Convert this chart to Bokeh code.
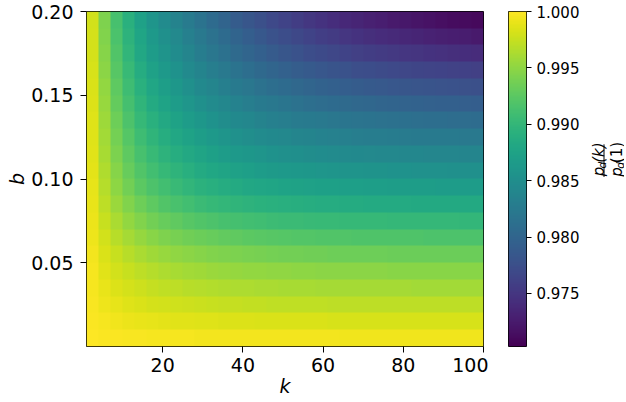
import numpy as np
from bokeh.plotting import figure
from bokeh.layouts import row
from bokeh.models import LinearColorMapper, FixedTicker, PrintfTickFormatter, Range1d
from bokeh.core.properties import value
from bokeh.palettes import Viridis256
from bokeh.embed import file_html
from bokeh.resources import INLINE

# ---- data: p_d(k)/p_d(1) at cell centres ----
k_centers = [2.5, 5.5, 8.5, 11.5, 14.5, 17.5, 20.5, 23.5, 26.5, 29.5, 32.5,
             35.5, 38.5, 41.5, 44.5, 47.5, 50.5, 53.5, 56.5, 59.5, 62.5, 65.5,
             68.5, 71.5, 74.5, 77.5, 80.5, 83.5, 86.5, 89.5, 92.5, 95.5, 98.5]
b_centers = [0.005, 0.015, 0.025, 0.035, 0.045, 0.055, 0.065, 0.075, 0.085, 0.095,
             0.105, 0.115, 0.125, 0.135, 0.145, 0.155, 0.165, 0.175, 0.185, 0.195]

ratio_b005 = [0.99995, 0.99985, 0.99977, 0.99971, 0.99966, 0.99962, 0.99959, 0.99956, 0.99954, 0.99952, 0.9995,
              0.99948, 0.99947, 0.99946, 0.99945, 0.99944, 0.99944, 0.99943, 0.99943, 0.99942, 0.99942, 0.99941,
              0.99941, 0.99941, 0.99941, 0.99941, 0.99941, 0.9994, 0.9994, 0.9994, 0.9994, 0.9994, 0.9994]
ratio_b015 = [0.99985, 0.99955, 0.99932, 0.99914, 0.99898, 0.99887, 0.99877, 0.99869, 0.99861, 0.99855, 0.9985,
              0.99845, 0.99842, 0.99838, 0.99835, 0.99833, 0.99831, 0.99829, 0.99828, 0.99826, 0.99825, 0.99824,
              0.99824, 0.99823, 0.99823, 0.99822, 0.99822, 0.99821, 0.99821, 0.99821, 0.99821, 0.9982, 0.9982]
ratio_b025 = [0.99975, 0.99925, 0.99886, 0.99856, 0.9983, 0.99811, 0.99794, 0.99781, 0.99769, 0.99758, 0.99749,
              0.99742, 0.99736, 0.9973, 0.99725, 0.99721, 0.99718, 0.99715, 0.99713, 0.9971, 0.99709, 0.99707,
              0.99706, 0.99705, 0.99704, 0.99704, 0.99703, 0.99702, 0.99702, 0.99701, 0.99701, 0.99701, 0.997]
ratio_b035 = [0.99965, 0.99897, 0.99844, 0.99803, 0.99768, 0.99742, 0.99719, 0.99701, 0.99684, 0.9967, 0.99658,
              0.99647, 0.99639, 0.99631, 0.99625, 0.99619, 0.99615, 0.9961, 0.99607, 0.99604, 0.99602, 0.996,
              0.99599, 0.99597, 0.99596, 0.99595, 0.99594, 0.99593, 0.99592, 0.99592, 0.99591, 0.99591, 0.9959]
ratio_b045 = [0.99955, 0.99867, 0.99799, 0.99746, 0.99701, 0.99666, 0.99637, 0.99613, 0.99592, 0.99573, 0.99557,
              0.99544, 0.99534, 0.99523, 0.99515, 0.99507, 0.99502, 0.99496, 0.99492, 0.99489, 0.99486, 0.99483,
              0.99481, 0.9948, 0.99478, 0.99476, 0.99475, 0.99474, 0.99473, 0.99472, 0.99472, 0.99471, 0.9947]
ratio_b055 = [0.99943, 0.99832, 0.99745, 0.99678, 0.99621, 0.99578, 0.99541, 0.99511, 0.99484, 0.99461, 0.99441,
              0.99424, 0.9941, 0.99397, 0.99387, 0.99377, 0.9937, 0.99363, 0.99358, 0.99353, 0.9935, 0.99347,
              0.99344, 0.99342, 0.9934, 0.99338, 0.99337, 0.99335, 0.99334, 0.99333, 0.99332, 0.99331, 0.9933]
ratio_b065 = [0.99929, 0.99792, 0.99685, 0.99602, 0.99531, 0.99477, 0.99431, 0.99394, 0.99361, 0.99332, 0.99307,
              0.99286, 0.9927, 0.99253, 0.99241, 0.99228, 0.9922, 0.99211, 0.99205, 0.99199, 0.99195, 0.99191,
              0.99187, 0.99185, 0.99182, 0.9918, 0.99178, 0.99177, 0.99175, 0.99173, 0.99172, 0.99172, 0.9917]
ratio_b075 = [0.99915, 0.9975, 0.9962, 0.9952, 0.99435, 0.9937, 0.99315, 0.9927, 0.9923, 0.99195, 0.99165,
              0.9914, 0.9912, 0.991, 0.99085, 0.9907, 0.9906, 0.9905, 0.99042, 0.99035, 0.9903, 0.99025,
              0.99021, 0.99018, 0.99015, 0.99012, 0.9901, 0.99008, 0.99006, 0.99004, 0.99003, 0.99002, 0.99]
ratio_b085 = [0.99901, 0.99707, 0.99555, 0.99438, 0.99339, 0.99263, 0.99199, 0.99146, 0.99099, 0.99058, 0.99023,
              0.98994, 0.9897, 0.98947, 0.98929, 0.98912, 0.989, 0.98888, 0.98879, 0.98871, 0.98865, 0.98859,
              0.98855, 0.98851, 0.98848, 0.98844, 0.98842, 0.98839, 0.98837, 0.98835, 0.98834, 0.98832, 0.9883]
ratio_b095 = [0.99888, 0.99671, 0.995, 0.99369, 0.99257, 0.99171, 0.99099, 0.9904, 0.98987, 0.98941, 0.98901,
              0.98867, 0.9884, 0.98813, 0.98792, 0.98772, 0.98758, 0.98744, 0.98732, 0.98723, 0.98715, 0.98708,
              0.98702, 0.98697, 0.98693, 0.98688, 0.98685, 0.98682, 0.98679, 0.98676, 0.98675, 0.98673, 0.9867]
ratio_b105 = [0.99877, 0.99641, 0.99455, 0.99313, 0.99191, 0.99099, 0.99021, 0.98956, 0.98898, 0.98846, 0.98802,
              0.98764, 0.98732, 0.98701, 0.98677, 0.98652, 0.98635, 0.98618, 0.98604, 0.98592, 0.98582, 0.98573,
              0.98564, 0.98558, 0.98552, 0.98546, 0.98541, 0.98537, 0.98533, 0.98529, 0.98526, 0.98524, 0.9852]
ratio_b115 = [0.99868, 0.99615, 0.99417, 0.99265, 0.99135, 0.99036, 0.98953, 0.98884, 0.98821, 0.98765, 0.98716,
              0.98674, 0.98637, 0.98603, 0.98574, 0.98546, 0.98526, 0.98506, 0.98488, 0.98473, 0.98461, 0.98449,
              0.98438, 0.9843, 0.98422, 0.98415, 0.98408, 0.98403, 0.98397, 0.98392, 0.98388, 0.98384, 0.9838]
ratio_b125 = [0.99859, 0.99588, 0.99377, 0.99215, 0.99077, 0.98972, 0.98883, 0.9881, 0.98742, 0.9868, 0.98627,
              0.9858, 0.98538, 0.985, 0.98467, 0.98434, 0.98411, 0.98387, 0.98365, 0.98348, 0.98333, 0.98318,
              0.98304, 0.98294, 0.98284, 0.98275, 0.98266, 0.98259, 0.98252, 0.98245, 0.9824, 0.98235, 0.9823]
ratio_b135 = [0.9985, 0.99563, 0.9934, 0.99169, 0.99023, 0.98911, 0.98819, 0.98741, 0.98668, 0.98601, 0.98544,
              0.98491, 0.98444, 0.98402, 0.98364, 0.98327, 0.98299, 0.98271, 0.98245, 0.98225, 0.98207, 0.98188,
              0.98171, 0.9816, 0.98148, 0.98136, 0.98125, 0.98116, 0.98107, 0.98099, 0.98093, 0.98086, 0.9808]
ratio_b145 = [0.9984, 0.99537, 0.99301, 0.99122, 0.98968, 0.9885, 0.98752, 0.9867, 0.98593, 0.9852, 0.98458,
              0.984, 0.98347, 0.983, 0.98257, 0.98214, 0.98182, 0.9815, 0.98119, 0.98096, 0.98074, 0.98052,
              0.98031, 0.98017, 0.98003, 0.97988, 0.97975, 0.97964, 0.97953, 0.97943, 0.97935, 0.97927, 0.9792]
ratio_b155 = [0.99831, 0.99513, 0.99265, 0.99078, 0.98916, 0.98793, 0.98691, 0.98605, 0.98523, 0.98444, 0.98377,
              0.98314, 0.98254, 0.98202, 0.98154, 0.98106, 0.98069, 0.98032, 0.97997, 0.97969, 0.97944, 0.97918,
              0.97893, 0.97876, 0.97859, 0.97842, 0.97826, 0.97813, 0.978, 0.97788, 0.97778, 0.97769, 0.9776]
ratio_b165 = [0.99822, 0.99488, 0.99229, 0.99033, 0.98864, 0.98735, 0.98629, 0.98539, 0.98452, 0.98367, 0.98295,
              0.98226, 0.98159, 0.98102, 0.98048, 0.97994, 0.97951, 0.97909, 0.97868, 0.97837, 0.97807, 0.97777,
              0.97747, 0.97727, 0.97707, 0.97688, 0.97668, 0.97653, 0.97637, 0.97623, 0.97612, 0.976, 0.9759]
ratio_b175 = [0.99813, 0.99463, 0.99192, 0.98988, 0.98812, 0.98677, 0.98567, 0.98472, 0.9838, 0.98289, 0.98212,
              0.98136, 0.98062, 0.97999, 0.97938, 0.97877, 0.9783, 0.97782, 0.97735, 0.97699, 0.97664, 0.97629,
              0.97594, 0.97571, 0.97548, 0.97525, 0.97502, 0.97484, 0.97465, 0.97449, 0.97435, 0.97422, 0.9741]
ratio_b185 = [0.99805, 0.99443, 0.99164, 0.98954, 0.98773, 0.98633, 0.98521, 0.98423, 0.98327, 0.9823, 0.98148,
              0.98066, 0.97985, 0.97917, 0.9785, 0.97782, 0.97728, 0.97675, 0.97622, 0.97581, 0.97541, 0.97502,
              0.97462, 0.97435, 0.97409, 0.97382, 0.97356, 0.97335, 0.97314, 0.97295, 0.97279, 0.97263, 0.9725]
ratio_b195 = [0.99797, 0.9942, 0.9913, 0.98912, 0.98724, 0.98579, 0.98463, 0.98361, 0.9826, 0.98158, 0.98071,
              0.97984, 0.97897, 0.97825, 0.97752, 0.9768, 0.97622, 0.97564, 0.97506, 0.97462, 0.97419, 0.97375,
              0.97332, 0.97303, 0.97274, 0.97245, 0.97216, 0.97193, 0.9717, 0.97149, 0.97132, 0.97114, 0.971]

x_ticks = [20, 40, 60, 80, 100]
y_ticks = [0.05, 0.10, 0.15, 0.20]
cbar_ticks = [0.975, 0.980, 0.985, 0.990, 0.995, 1.000]
ratio_low, ratio_high = 0.9703, 1.0
k_min, k_max = 1, 100
b_min, b_max = 0.0, 0.2

# ---- layout constants (pixels) ----
FL, FW, FT, FH, FB = 86, 397, 11, 335, 55
FONT = "DejaVu Sans"

grid = np.array([ratio_b005, ratio_b015, ratio_b025, ratio_b035, ratio_b045,
                 ratio_b055, ratio_b065, ratio_b075, ratio_b085, ratio_b095,
                 ratio_b105, ratio_b115, ratio_b125, ratio_b135, ratio_b145,
                 ratio_b155, ratio_b165, ratio_b175, ratio_b185, ratio_b195])
k_step = k_centers[1] - k_centers[0]
b_step = b_centers[1] - b_centers[0]

mapper = LinearColorMapper(palette=Viridis256, low=ratio_low, high=ratio_high)

p1 = figure(frame_width=FW, frame_height=FH, min_border_left=FL, min_border_right=5,
            min_border_top=FT, min_border_bottom=FB,
            x_range=Range1d(k_min, k_max), y_range=Range1d(b_min, b_max),
            output_backend="svg", toolbar_location=None)
p1.image(image=[grid], x=k_centers[0] - k_step / 2, y=b_centers[0] - b_step / 2,
         dw=len(k_centers) * k_step, dh=len(b_centers) * b_step, color_mapper=mapper)
p1.grid.visible = False
p1.outline_line_color = "black"
p1.outline_line_width = 1
p1.outline_line_alpha = 1

p1.xaxis.ticker = FixedTicker(ticks=x_ticks)
p1.yaxis.ticker = FixedTicker(ticks=y_ticks)
p1.yaxis.formatter = PrintfTickFormatter(format="%.2f")
for ax in (p1.xaxis[0], p1.yaxis[0]):
    ax.axis_line_color = None
    ax.major_tick_line_color = "black"
    ax.major_tick_out = 6
    ax.major_tick_in = 0
    ax.minor_tick_line_color = None
    ax.major_label_text_font = FONT
    ax.major_label_text_font_size = "19px"
    ax.major_label_text_color = "black"
    ax.axis_label_text_font = FONT
    ax.axis_label_text_font_style = "italic"
    ax.axis_label_text_font_size = "19px"
    ax.axis_label_text_color = "black"
p1.xaxis.major_label_standoff = 5
p1.yaxis.major_label_standoff = 7
p1.xaxis.axis_label = "k"
p1.yaxis.axis_label = "b"
p1.xaxis.axis_label_standoff = 0
p1.yaxis.axis_label_standoff = 0

# ---- colour bar as a second figure ----
CB_GAP, CB_W, CB_R = 20, 18, 56
p2 = figure(frame_width=CB_W, frame_height=FH, min_border_left=CB_GAP, min_border_right=CB_R,
            min_border_top=FT, min_border_bottom=FB,
            x_range=Range1d(0, 1), y_range=Range1d(ratio_low, ratio_high),
            x_axis_location=None, y_axis_location="right",
            output_backend="svg", toolbar_location=None)
cbar_levels = np.linspace(ratio_low, ratio_high, 256).reshape(-1, 1)
p2.image(image=[cbar_levels], x=0, y=ratio_low, dw=1, dh=ratio_high - ratio_low,
         color_mapper=mapper)
p2.grid.visible = False
p2.outline_line_color = "black"
p2.outline_line_width = 1
ax = p2.yaxis[0]
ax.ticker = FixedTicker(ticks=cbar_ticks)
ax.formatter = PrintfTickFormatter(format="%.3f")
ax.axis_line_color = None
ax.major_tick_line_color = "black"
ax.major_tick_out = 5
ax.major_tick_in = 0
ax.minor_tick_line_color = None
ax.major_label_text_font = FONT
ax.major_label_text_font_size = "15px"
ax.major_label_text_color = "black"
ax.major_label_standoff = 5

# ---- colour-bar title p_d(k) / p_d(1) as a small third figure ----
T_W, T_H = 42, FT + FH + FB
T_LEFT = FL + FW + 5 + CB_GAP + CB_W + CB_R
p3 = figure(width=T_W, height=T_H, min_border=0,
            x_range=Range1d(0, T_W), y_range=Range1d(0, T_H),
            x_axis_location=None, y_axis_location=None,
            output_backend="svg", toolbar_location=None)
p3.grid.visible = False
p3.outline_line_color = None


def tx(page_x):
    return page_x - T_LEFT


def ty(page_y):
    return T_H - page_y


def part(px, py, txt, size, style="italic"):
    p3.text(x=[tx(px)], y=[ty(py)], text=[txt], angle=np.pi / 2,
            text_align="left", text_baseline="alphabetic",
            text_font=value(FONT), text_font_style=style,
            text_font_size=value(size), text_color="black")


# numerator p_d(k)
part(598, 197.3, "p", "15px")
part(601, 187.8, "d", "10.5px")
part(598, 181.1, "(k)", "15px")
# denominator p_d(1)
part(616, 197.7, "p", "15px")
part(619, 188.2, "d", "10.5px")
part(616, 181.5, "(1)", "15px", "normal")
p3.segment(x0=[tx(603.5)], y0=[ty(198)], x1=[tx(603.5)], y1=[ty(159)],
           line_color="black", line_width=1)

layout = row(p1, p2, p3)
open("out.html", "w").write(file_html(layout, INLINE))
